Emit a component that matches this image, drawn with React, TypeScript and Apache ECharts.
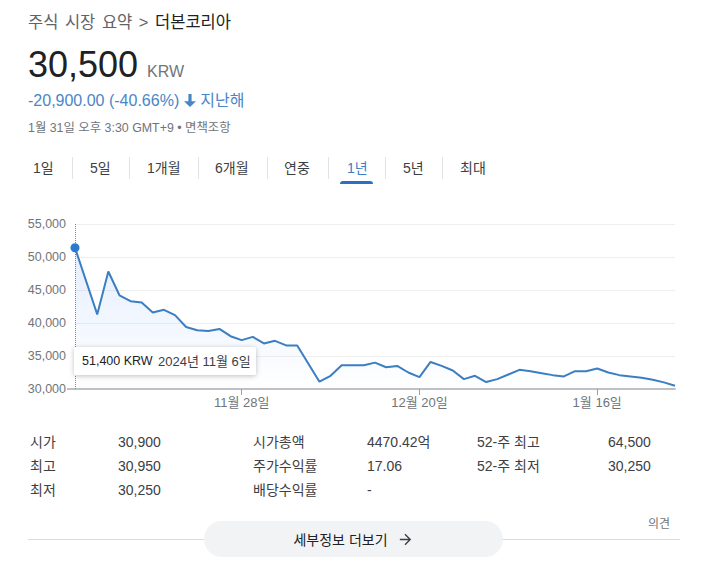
import React, { useEffect, useRef } from "react";
import * as echarts from "echarts";

const FONT = "Arial, 'Liberation Sans', 'Noto Sans CJK KR', sans-serif";

// ---- data ----
const breadcrumb = "주식 시장 요약 > ";
const stockName = "더본코리아";
const currentPrice = "30,500";
const currency = "KRW";
const changeText = "-20,900.00 (-40.66%)";
const changePeriod = "지난해";
const timestampText = "1월 31일 오후 3:30 GMT+9 • 면책조항";
const rangeTabs = ["1일", "5일", "1개월", "6개월", "연중", "1년", "5년", "최대"];
const activeTab = "1년";

const dates = [
  "2024-11-06", "2024-11-08", "2024-11-11", "2024-11-12", "2024-11-13", "2024-11-14",
  "2024-11-15", "2024-11-18", "2024-11-19", "2024-11-20", "2024-11-21", "2024-11-22",
  "2024-11-25", "2024-11-26", "2024-11-27", "2024-11-28", "2024-11-29", "2024-12-02",
  "2024-12-03", "2024-12-04", "2024-12-05", "2024-12-06", "2024-12-09", "2024-12-10",
  "2024-12-11", "2024-12-12", "2024-12-13", "2024-12-16", "2024-12-17", "2024-12-18",
  "2024-12-19", "2024-12-20", "2024-12-23", "2024-12-24", "2024-12-26", "2024-12-27",
  "2024-12-30", "2025-01-02", "2025-01-03", "2025-01-06", "2025-01-07", "2025-01-08",
  "2025-01-09", "2025-01-10", "2025-01-13", "2025-01-14", "2025-01-15", "2025-01-16",
  "2025-01-17", "2025-01-20", "2025-01-21", "2025-01-22", "2025-01-23", "2025-01-24",
  "2025-01-31",
];
const prices: (number | null)[] = [
  51400, null, 41300, 47800, 44200, 43300,
  43100, 41600, 42000, 41200, 39400, 38900,
  38800, 39100, 38000, 37400, 37900, 36900,
  37300, 36600, 36600, null, 31100, 32000,
  33600, 33600, 33600, 34000, 33300, 33500,
  32500, 31800, 34100, 33500, 32800, 31500,
  32000, 31050, 31500, 32200, 32900, 32700,
  32400, 32100, 31900, 32700, 32700, 33100,
  32500, 32100, 31900, 31700, 31400, 31000,
  30500,
];
const xLabelDates = ["2024-11-28", "2024-12-20", "2025-01-16"];
const yMin = 30000;
const yMax = 55000;
const yStep = 5000;
const hoverIndex = 0;

const statLabels1 = ["시가", "최고", "최저"];
const statValues1 = ["30,900", "30,950", "30,250"];
const statLabels2 = ["시가총액", "주가수익률", "배당수익률"];
const statValues2 = ["4470.42억", "17.06", "-"];
const statLabels3 = ["52-주 최고", "52-주 최저"];
const statValues3 = ["64,500", "30,250"];
const moreButtonText = "세부정보 더보기";
const feedbackText = "의견";

// ---- layout (not data) ----
const tabLeft = [33, 90, 147, 215, 284, 347, 403, 460];
const sepLeft = [72, 129, 198, 267, 328, 385, 442];
const statColLeft = [30, 118, 253, 367, 477, 608];
const statRowTop = [432, 456, 480];

const BLUE = "#3b7ec2";

function parts(d: string) {
  const [y, m, day] = d.split("-").map((s) => parseInt(s, 10));
  return { y, m, day };
}
function shortDate(d: string) {
  const p = parts(d);
  return `${p.m}월 ${p.day}일`;
}
function fullDate(d: string) {
  const p = parts(d);
  return `${p.y}년 ${p.m}월 ${p.day}일`;
}

function Chart() {
  const ref = useRef<HTMLDivElement>(null);
  useEffect(() => {
    if (!ref.current) return;
    const chart = echarts.init(ref.current, undefined, { renderer: "svg" });
    const labelIdx = xLabelDates.map((d) => dates.indexOf(d));
    const showIdx = (i: number) => labelIdx.includes(i);
    const hv = prices[hoverIndex] as number;
    chart.setOption({
      animation: false,
      textStyle: { fontFamily: FONT },
      grid: { left: 75, top: 24, width: 600, height: 165 },
      xAxis: {
        type: "category",
        data: dates,
        boundaryGap: false,
        axisLine: { lineStyle: { color: "#bdc1c6", width: 2 } },
        axisTick: {
          show: true,
          interval: showIdx,
          length: 6,
          lineStyle: { color: "#9aa0a6", width: 1 },
        },
        axisLabel: {
          interval: showIdx,
          formatter: (v: string) => shortDate(v),
          color: "#70757a",
          fontSize: 13,
          margin: 7,
          fontFamily: FONT,
        },
        splitLine: { show: false },
      },
      yAxis: {
        type: "value",
        min: yMin,
        max: yMax,
        interval: yStep,
        axisLine: { show: false },
        axisTick: { show: false },
        axisLabel: {
          formatter: (v: number) => v.toLocaleString("en-US"),
          color: "#70757a",
          fontSize: 12.5,
          margin: 9,
          fontFamily: FONT,
        },
        splitLine: { lineStyle: { color: "#efefef", width: 1 } },
      },
      series: [
        {
          type: "line",
          data: prices,
          connectNulls: true,
          showSymbol: false,
          symbol: "none",
          silent: true,
          z: 2,
          lineStyle: { color: BLUE, width: 2 },
          areaStyle: {
            color: new echarts.graphic.LinearGradient(0, 0, 0, 1, [
              { offset: 0, color: "rgba(66,133,244,0.20)" },
              { offset: 1, color: "rgba(66,133,244,0.0)" },
            ]),
          },
          markLine: {
            silent: true,
            symbol: ["none", "none"],
            label: { show: false },
            lineStyle: { color: "#80868b", type: "dotted", width: 1 },
            data: [{ xAxis: dates[hoverIndex] }],
          },
          markPoint: {
            silent: true,
            symbol: "circle",
            symbolSize: 9,
            itemStyle: { color: "#2a7bd0" },
            label: { show: false },
            data: [{ coord: [dates[hoverIndex], hv] }],
          },
        },
      ],
      graphic: [
        {
          type: "line",
          shape: { x1: 67, y1: 189, x2: 75, y2: 189 },
          style: { stroke: "#bdc1c6", lineWidth: 2 },
        },
        {
          type: "group",
          left: 74,
          top: 147,
          z: 100,
          children: [
            {
              type: "rect",
              z: 100,
              shape: { x: 0, y: 0, width: 182, height: 28, r: 2 },
              style: {
                fill: "#ffffff",
                shadowBlur: 5,
                shadowColor: "rgba(0,0,0,0.25)",
                shadowOffsetY: 1,
              },
            },
            {
              type: "text",
              z: 101,
              x: 8,
              y: 14,
              style: {
                text: `${hv.toLocaleString("en-US")} ${currency}`,
                fontSize: 12.5,
                fontFamily: FONT,
                fill: "#202124",
                verticalAlign: "middle",
              },
            },
            {
              type: "text",
              z: 101,
              x: 84,
              y: 14,
              style: {
                text: fullDate(dates[hoverIndex]),
                fontSize: 13,
                fontFamily: FONT,
                fill: "#3c4043",
                verticalAlign: "middle",
              },
            },
          ],
        },
      ],
    });
    return () => chart.dispose();
  }, []);
  return (
    <div
      ref={ref}
      style={{ position: "absolute", left: 0, top: 200, width: 710, height: 225 }}
    />
  );
}

const abs = (left: number, top: number, extra: React.CSSProperties = {}): React.CSSProperties => ({
  position: "absolute",
  left,
  top,
  whiteSpace: "nowrap",
  ...extra,
});

export default function App() {
  return (
    <div
      style={{
        position: "absolute",
        left: 0,
        top: 0,
        width: 710,
        height: 569,
        background: "#ffffff",
        fontFamily: FONT,
        overflow: "hidden",
      }}
    >
      <div
        style={abs(28, 12, {
          fontSize: 16.5,
          lineHeight: "20px",
          color: "#5f6368",
          wordSpacing: 2,
        })}
      >
        {breadcrumb}
        <span style={{ color: "#202124" }}>{stockName}</span>
      </div>

      <div style={abs(28, 45, { lineHeight: "40px", color: "#202124" })}>
        <span style={{ fontSize: 36 }}>{currentPrice}</span>
        <span style={{ fontSize: 16, color: "#70757a", marginLeft: 9 }}>{currency}</span>
      </div>

      <div style={abs(28, 91, { fontSize: 16, lineHeight: "20px", color: "#4a86c6" })}>
        {changeText}
        <svg
          width="12"
          height="13"
          viewBox="0 0 12 13"
          style={{ verticalAlign: "-1px", margin: "0 4px 0 5px" }}
        >
          <path fill="#4a86c6" d="M4.4 0h3.2v7.2H12L6 13 0 7.2h4.4z" />
        </svg>
        {changePeriod}
      </div>

      <div style={abs(28, 120, { fontSize: 12.4, lineHeight: "16px", color: "#70757a" })}>
        {timestampText}
      </div>

      {rangeTabs.map((t, i) => (
        <div
          key={t}
          style={abs(tabLeft[i], 159, {
            fontSize: 14,
            lineHeight: "18px",
            color: t === activeTab ? "#3b7ec2" : "#3c4043",
          })}
        >
          {t}
        </div>
      ))}
      {sepLeft.map((x) => (
        <div key={x} style={abs(x, 157, { width: 1, height: 22, background: "#e0e2e5" })} />
      ))}
      <div
        style={abs(340, 181, {
          width: 33,
          height: 3,
          background: "#2d6fc0",
          borderRadius: "3px 3px 0 0",
        })}
      />

      <Chart />

      {statLabels1.map((l, i) => (
        <div key={"l1" + l} style={abs(statColLeft[0], statRowTop[i], { fontSize: 14, lineHeight: "20px", color: "#3c4043" })}>{l}</div>
      ))}
      {statValues1.map((v, i) => (
        <div key={"v1" + i} style={abs(statColLeft[1], statRowTop[i], { fontSize: 14, lineHeight: "20px", color: "#3c4043" })}>{v}</div>
      ))}
      {statLabels2.map((l, i) => (
        <div key={"l2" + l} style={abs(statColLeft[2], statRowTop[i], { fontSize: 14, lineHeight: "20px", color: "#3c4043" })}>{l}</div>
      ))}
      {statValues2.map((v, i) => (
        <div key={"v2" + i} style={abs(statColLeft[3], statRowTop[i], { fontSize: 14, lineHeight: "20px", color: "#3c4043" })}>{v}</div>
      ))}
      {statLabels3.map((l, i) => (
        <div key={"l3" + l} style={abs(statColLeft[4], statRowTop[i], { fontSize: 14, lineHeight: "20px", color: "#3c4043" })}>{l}</div>
      ))}
      {statValues3.map((v, i) => (
        <div key={"v3" + i} style={abs(statColLeft[5], statRowTop[i], { fontSize: 14, lineHeight: "20px", color: "#3c4043" })}>{v}</div>
      ))}

      <div style={abs(648, 516, { fontSize: 12, lineHeight: "16px", color: "#70757a" })}>{feedbackText}</div>
      <div style={abs(28, 539, { width: 652, height: 1, background: "#dadce0" })} />
      <div
        style={abs(204, 521, {
          width: 299,
          height: 36,
          borderRadius: 18,
          background: "#f1f3f4",
          display: "flex",
          alignItems: "center",
          justifyContent: "center",
          fontSize: 14,
          color: "#202124",
        })}
      >
        <span>{moreButtonText}</span>
        <svg width="17" height="17" viewBox="0 0 24 24" style={{ marginLeft: 9 }}>
          <path fill="#3c4043" d="M12 4l-1.41 1.41L16.17 11H4v2h12.17l-5.58 5.59L12 20l8-8z" />
        </svg>
      </div>
    </div>
  );
}
